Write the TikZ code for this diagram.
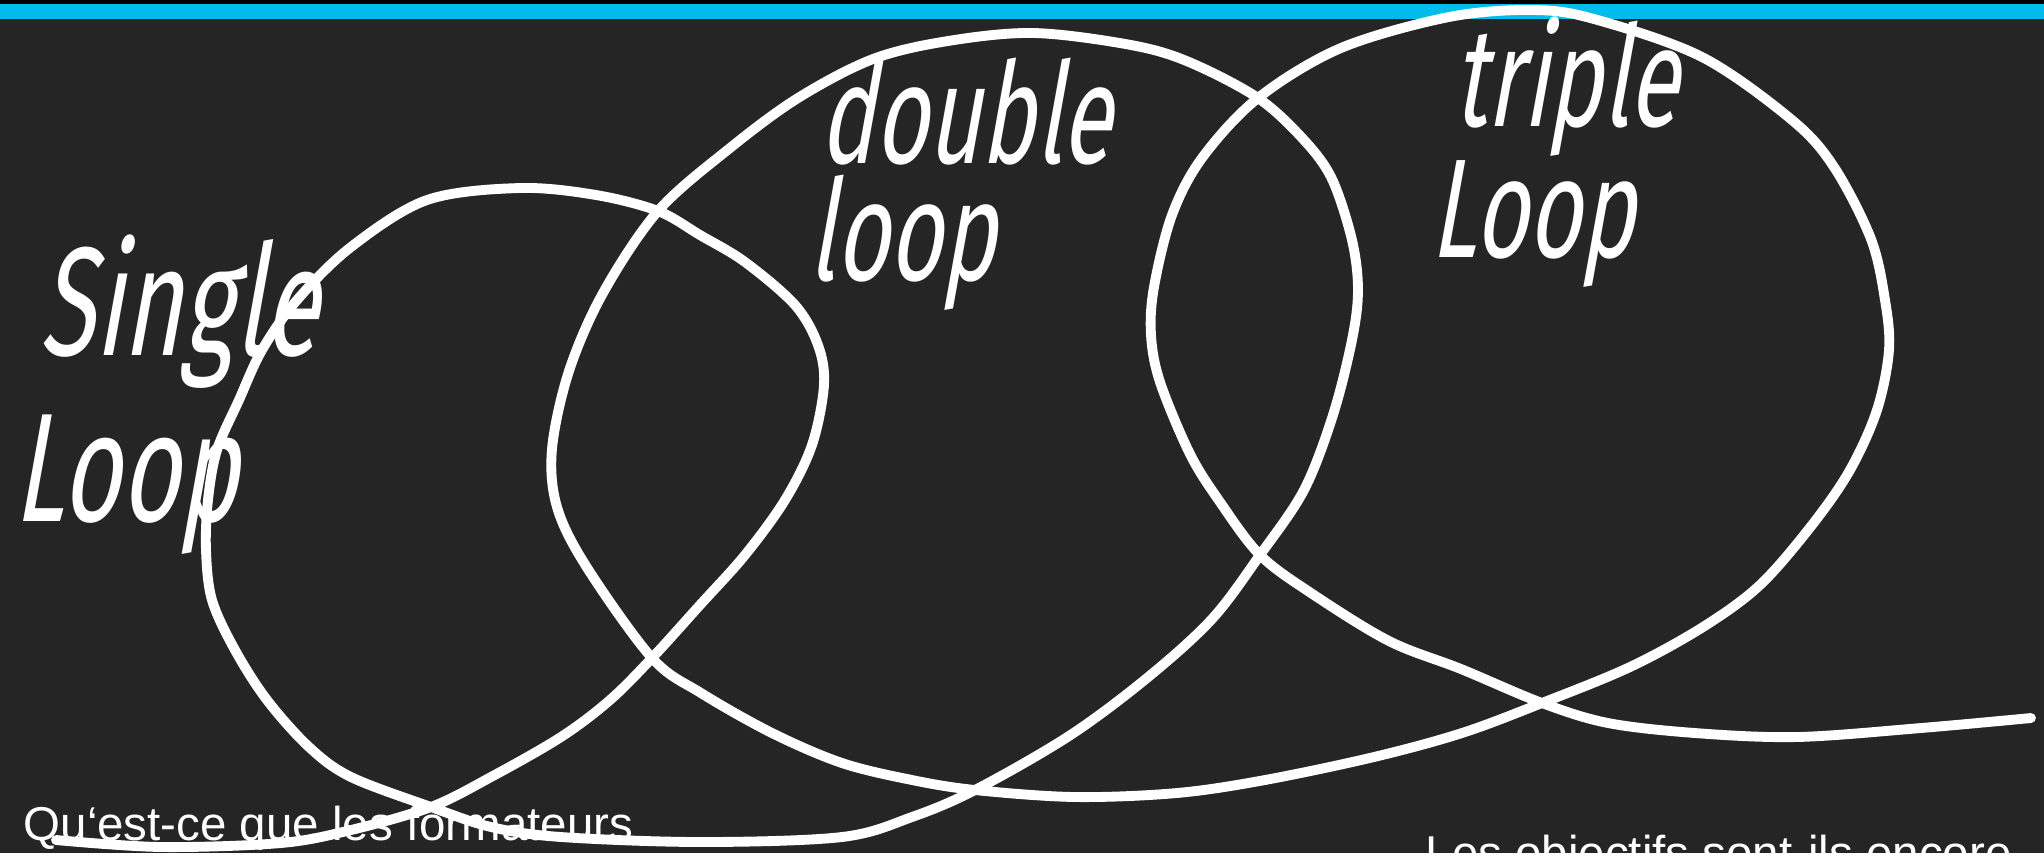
\documentclass[tikz,border=0pt]{standalone}
\usepackage{fontspec}
\usepackage{xcolor}
\setmainfont{Liberation Sans}
\newfontfamily\handfont[FakeStretch=0.65,FakeSlant=0.18]{Fira Sans}
\definecolor{board}{HTML}{252525}
\definecolor{barblue}{HTML}{00BCEB}
\tikzset{
    penline/.style={
        draw=white,
        line width=2.8pt,
        line cap=round,
        line join=round
    },
    handnote/.style={
        text=white,
        align=left,
        inner sep=0pt,
        anchor=base west,
        font=\handfont\fontsize{40}{33}\selectfont
    },
    caption/.style={
        text=white,
        inner sep=0pt,
        anchor=base west,
        font=\fontsize{13.5}{16}\selectfont
    }
}

\begin{document}
\begin{tikzpicture}[x=0.01cm, y=-0.01cm]
        \useasboundingbox (0,0) rectangle (2044,853);
        \clip (0,0) rectangle (2044,853);
        \fill[board] (0,0) rectangle (2044,853);
        \fill[black] (0,0) rectangle (2044,4);
        \fill[barblue] (0,4) rectangle (2044,19);

        \draw[penline] plot[smooth, tension=0.55] coordinates {
            (56,840) (161,847) (281,843) (351,830) (431,807) (491,777) (561,737)
            (610,700) (652,658) (700,605) (745,555) (785,500) (812,445) (824,385)
            (818,345) (795,305) (745,262) (700,235) (658,211) (596,195) (520,188)
            (427,200) (351,247) (297,300) (262,350) (239,400) (217,450) (208,500)
            (206,550) (212,600) (235,650) (267,700) (309,747) (351,777) (431,807)
            (491,827) (561,837) (701,842) (842,837) (912,817) (975,790)
            (1069,736) (1147,678) (1212,619) (1260,555) (1304,490) (1333,415)
            (1352,340) (1358,290) (1352,240) (1332,179) (1304,140) (1258,98)
            (1189,62) (1131,45) (1034,33) (948,41) (873,59) (798,98) (730,148)
            (658,211) (603,293) (569,371) (552,449) (557,507) (586,566) (652,658)
            (701,693) (772,733) (842,763) (912,780) (975,790) (1075,797) (1177,793)
            (1265,780) (1374,757) (1462,733) (1542,703) (1630,667) (1703,627)
            (1760,585) (1812,525) (1850,470) (1877,410) (1889,350) (1885,300)
            (1871,239) (1834,167) (1792,120) (1702,57) (1594,19) (1533,10)
            (1449,17) (1341,48) (1258,98) (1202,158) (1172,215) (1154,287)
            (1151,335) (1160,382) (1190,454) (1220,502) (1260,555) (1311,593)
            (1389,641) (1461,669) (1542,703) (1608,723) (1695,733) (1797,737)
            (1921,728) (2031,718)
        };

        \node[handnote, font=\handfont\fontsize{44}{47}\selectfont] (single) at (39,521) {Single\\\hspace*{-0.26cm}Loop};
        \node[handnote] (double) at (819,280) {double\\\hspace*{-0.11cm}loop};
        \node[handnote] (triple) at (1453,257) {triple\\\hspace*{-0.23cm}Loop};

        \node[caption] (question) at (23,840) {Qu‘est-ce que les formateurs};
        \node[caption] (goals) at (1425,869) {Les objectifs sont-ils encore};
    \end{tikzpicture}
\end{document}
